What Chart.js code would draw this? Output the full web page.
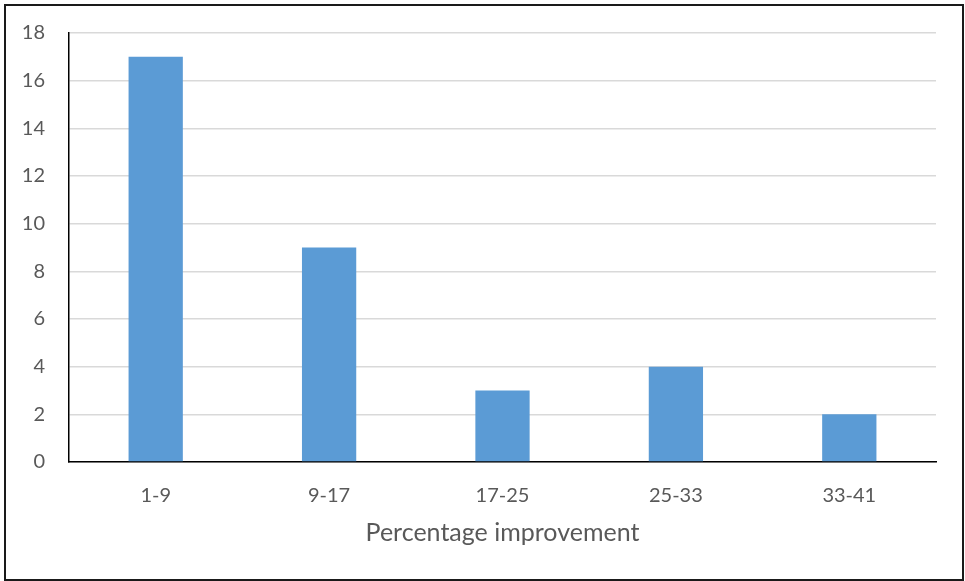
<!DOCTYPE html>
<html>
<head>
<meta charset="utf-8">
<script src="https://cdn.jsdelivr.net/npm/chart.js@4"></script>
<style>
  html, body { margin: 0; padding: 0; background: #fff; }
  #wrap { width: 965px; height: 581px; position: relative; }
</style>
</head>
<body>
<div id="wrap"><canvas id="myChart" width="965" height="581"></canvas></div>
<script>
const labels = ["1-9", "9-17", "17-25", "25-33", "33-41"];
const counts = [17, 9, 3, 4, 2];
const yTicks = [0, 2, 4, 6, 8, 10, 12, 14, 16, 18];

const textColor = "#595959";

// outer frame round the whole picture
const framePlugin = {
    id: "frame",
    beforeDraw(chart) {
        const c = chart.ctx;
        c.save();
        c.fillStyle = "#fff";
        c.fillRect(0, 0, chart.width, chart.height);
        c.strokeStyle = "#1a1a1a";
        c.lineWidth = 2;
        c.strokeRect(5, 5, 958, 575);
        c.restore();
    }
};

const ctx = document.getElementById("myChart").getContext("2d");

const myChart = new Chart(ctx, {
    type: "bar",
    data: {
        labels,
        datasets: [{
            data: counts,
            backgroundColor: "#5B9BD5",
            categoryPercentage: 1,
            barPercentage: 0.313,
        }],
    },
    options: {
        responsive: false,
        animation: false,
        layout: { padding: { top: 33, right: 29, bottom: 0, left: 0 } },
        plugins: {
            legend: { display: false },
            tooltip: { enabled: false },
        },
        scales: {
            x: {
                afterFit(scale) { scale.height = 119; },
                grid: { display: false, drawTicks: false },
                border: { color: "#000", width: 1.5 },
                ticks: {
                    color: textColor,
                    font: { family: "Lato", size: 20 },
                    padding: 22,
                },
                title: {
                    display: true,
                    text: "Percentage improvement",
                    color: textColor,
                    font: { family: "Lato", size: 25 },
                    padding: { top: 0, bottom: 33 },
                },
            },
            y: {
                min: 0,
                max: 18,
                afterFit(scale) { scale.width = 69; },
                afterBuildTicks(scale) { scale.ticks = yTicks.map(v => ({ value: v })); },
                // invisible tick marks push the labels left without padding the top
                grid: { color: "#d9d9d9", lineWidth: 1.5, drawTicks: true, tickLength: 20, tickColor: "rgba(0,0,0,0)" },
                border: { color: "#000", width: 1.5 },
                ticks: {
                    color: textColor,
                    font: { family: "Lato", size: 20 },
                    padding: 4,
                },
            },
        },
    },
    plugins: [framePlugin],
});
</script>
</body>
</html>
